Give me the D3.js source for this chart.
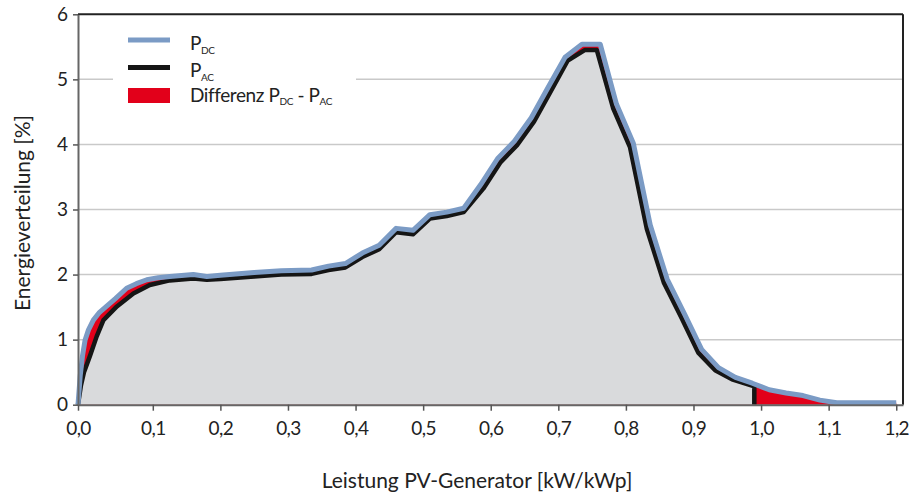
<!DOCTYPE html>
<html>
<head>
<meta charset="utf-8">
<script src="https://cdn.jsdelivr.net/npm/d3@7"></script>
<style>
  html, body { margin: 0; padding: 0; background: #fff; }
  svg { display: block; font-family: Lato, "Noto Sans", sans-serif; }
</style>
</head>
<body>
<svg id="chart" width="909" height="494"></svg>
<script>
// Leistung (kW/kWp) and Energieverteilung (%) on the DC side
const powerDC = [0, 0.003, 0.006, 0.0094, 0.014, 0.0205, 0.028, 0.038, 0.05, 0.065, 0.078, 0.092, 0.108, 0.125,
  0.16, 0.18, 0.2, 0.25, 0.29, 0.335, 0.36, 0.385, 0.41, 0.435, 0.46, 0.485, 0.51, 0.535, 0.56, 0.585, 0.61,
  0.635, 0.66, 0.685, 0.71, 0.735, 0.762, 0.786, 0.811, 0.836, 0.861, 0.887, 0.912, 0.937, 0.962, 0.987,
  1.012, 1.037, 1.062, 1.087, 1.112, 1.2];
const energyDC = [0, 0.45, 0.75, 0.99, 1.15, 1.30, 1.41, 1.51, 1.63, 1.79, 1.86, 1.92, 1.95, 1.97,
  2.0, 1.97, 1.99, 2.03, 2.06, 2.07, 2.13, 2.17, 2.33, 2.45, 2.71, 2.68, 2.92, 2.96, 3.02, 3.38, 3.78,
  4.05, 4.41, 4.88, 5.34, 5.54, 5.54, 4.62, 4.02, 2.76, 1.93, 1.39, 0.85, 0.57, 0.42, 0.33,
  0.23, 0.18, 0.14, 0.07, 0.03, 0.03];

// Same distribution on the AC side (inverter cuts off just below 1,0)
const powerAC = [0, 0.004, 0.008, 0.016, 0.025, 0.034, 0.052, 0.074, 0.096, 0.125, 0.16, 0.18, 0.2, 0.25,
  0.29, 0.335, 0.36, 0.385, 0.41, 0.435, 0.46, 0.485, 0.51, 0.535, 0.56, 0.589, 0.614, 0.639, 0.664, 0.689,
  0.714, 0.739, 0.757, 0.781, 0.806, 0.831, 0.856, 0.882, 0.907, 0.932, 0.957, 0.99, 0.99];
const energyAC = [0, 0.3, 0.5, 0.75, 1.05, 1.30, 1.51, 1.71, 1.84, 1.91, 1.94, 1.92, 1.93, 1.97,
  2.0, 2.01, 2.07, 2.11, 2.27, 2.39, 2.65, 2.62, 2.86, 2.9, 2.96, 3.32, 3.72, 3.99, 4.35, 4.82,
  5.29, 5.45, 5.45, 4.56, 3.96, 2.7, 1.88, 1.34, 0.8, 0.53, 0.39, 0.28, 0];

const xTicks = [0, 0.1, 0.2, 0.3, 0.4, 0.5, 0.6, 0.7, 0.8, 0.9, 1.0, 1.1, 1.2];
const yTicks = [0, 1, 2, 3, 4, 5, 6];
const gridValues = [1, 2, 3, 4, 5];

const xTitle = "Leistung PV-Generator [kW/kWp]";
const yTitle = "Energieverteilung [%]";

const COL_DC = "#7b9bc5";
const COL_AC = "#151515";
const COL_DIFF = "#e2001a";
const COL_FILL = "#d9dadc";

const svg = d3.select("#chart");
const plotLeft = 78, plotRight = 903, plotTop = 14.3, plotBottom = 404.7;

// The first interval of the power axis is drawn slightly wider than the rest
const x = d3.scaleLinear().domain([0, 0.1, 1.21]).range([plotLeft, 152.8, plotRight]);
const y = d3.scaleLinear().domain([0, 6]).range([plotBottom, plotTop]);

const locale = d3.formatLocale({ decimal: ",", thousands: ".", grouping: [3], currency: ["", " €"] });
const fmt1 = locale.format(".1f");

const dc = powerDC.map((p, i) => [p, energyDC[i]]);
const ac = powerAC.map((p, i) => [p, energyAC[i]]);

// Grid lines
svg.append("g").selectAll("line").data(gridValues).join("line")
  .attr("x1", plotLeft).attr("x2", plotRight)
  .attr("y1", d => y(d)).attr("y2", d => y(d))
  .attr("stroke", "#c9c9c9").attr("stroke-width", 1.5);

// Difference area (under DC), then the AC area on top of it
const areaGen = d3.area().x(d => x(d[0])).y0(y(0)).y1(d => y(d[1]));
svg.append("path").datum(dc).attr("d", areaGen).attr("fill", COL_DIFF);
svg.append("path").datum(ac).attr("d", areaGen).attr("fill", COL_FILL);

const lineGen = d3.line().x(d => x(d[0])).y(d => y(d[1]));
svg.append("path").datum(ac).attr("d", lineGen)
  .attr("fill", "none").attr("stroke", COL_AC).attr("stroke-width", 4.5).attr("stroke-linejoin", "round");
svg.append("path").datum(dc).attr("d", lineGen)
  .attr("fill", "none").attr("stroke", COL_DC).attr("stroke-width", 5).attr("stroke-linejoin", "round");

// Frame: top and right edges
svg.append("line").attr("x1", plotLeft).attr("x2", plotRight).attr("y1", plotTop).attr("y2", plotTop)
  .attr("stroke", "#222").attr("stroke-width", 2);
svg.append("line").attr("x1", plotRight).attr("x2", plotRight).attr("y1", plotTop).attr("y2", plotBottom)
  .attr("stroke", "#222").attr("stroke-width", 2);

// Axes
const xAxis = svg.append("g").attr("transform", `translate(0,${plotBottom})`)
  .call(d3.axisBottom(x).tickValues(xTicks).tickFormat(fmt1).tickSize(6).tickSizeOuter(0).tickPadding(11));
const yAxis = svg.append("g").attr("transform", `translate(${plotLeft},0)`)
  .call(d3.axisLeft(y).tickValues(yTicks).tickFormat(d3.format("d")).tickSize(5).tickSizeOuter(0).tickPadding(5));

[xAxis, yAxis].forEach(g => {
  g.select(".domain").attr("stroke", "#666").attr("stroke-width", 2);
  g.selectAll(".tick line").attr("stroke", "#555").attr("stroke-width", 1.5);
  g.selectAll(".tick text").attr("font-family", "Lato, 'Noto Sans', sans-serif")
    .attr("font-size", 19).attr("fill", "#222");
});
xAxis.selectAll(".tick text").attr("letter-spacing", -0.6);

// Axis titles
svg.append("text").attr("x", 477).attr("y", 488).attr("text-anchor", "middle")
  .attr("font-size", 21).attr("fill", "#222").text(xTitle);
svg.append("text").attr("transform", "translate(30,213) rotate(-90)").attr("text-anchor", "middle")
  .attr("font-size", 21).attr("fill", "#222").text(yTitle);

// Legend
const legend = svg.append("g");
legend.append("rect").attr("x", 113).attr("y", 24).attr("width", 243).attr("height", 88).attr("fill", "#fff");
legend.append("line").attr("x1", 128).attr("x2", 170).attr("y1", 40).attr("y2", 40)
  .attr("stroke", COL_DC).attr("stroke-width", 5);
legend.append("line").attr("x1", 128).attr("x2", 170).attr("y1", 67.5).attr("y2", 67.5)
  .attr("stroke", COL_AC).attr("stroke-width", 5);
legend.append("rect").attr("x", 128).attr("y", 88).attr("width", 42).attr("height", 15).attr("fill", COL_DIFF);

function legendLabel(yPos, parts) {
  const t = legend.append("text").attr("x", 190).attr("y", yPos).attr("font-size", 19)
    .attr("letter-spacing", -0.4).attr("fill", "#222");
  let sub = false;
  parts.forEach(p => {
    const s = t.append("tspan").text(p.text);
    if (p.sub && !sub) s.attr("dy", 3.5);
    if (!p.sub && sub) s.attr("dy", -3.5);
    if (p.sub) s.attr("font-size", 10);
    sub = !!p.sub;
  });
}
legendLabel(50, [{ text: "P" }, { text: "DC", sub: true }]);
legendLabel(77, [{ text: "P" }, { text: "AC", sub: true }]);
legendLabel(101.5, [{ text: "Differenz P" }, { text: "DC", sub: true }, { text: " - P" }, { text: "AC", sub: true }]);
</script>
</body>
</html>
